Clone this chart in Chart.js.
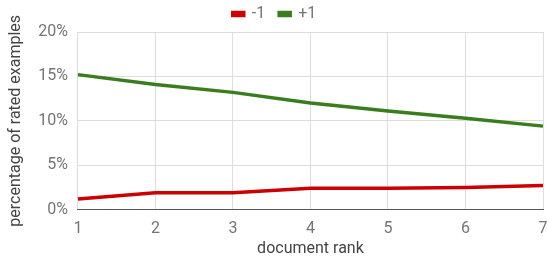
<!DOCTYPE html>
<html>
<head>
<meta charset="utf-8">
<script src="https://cdn.jsdelivr.net/npm/chart.js@4"></script>
<style>
  body { margin: 0; background: #fff; }
  #wrap { width: 547px; height: 257px; }
</style>
</head>
<body>
<div id="wrap"><canvas id="myChart"></canvas></div>
<script>
const ranks = ["1", "2", "3", "4", "5", "6", "7"];
const negValues = [1.2, 1.9, 1.9, 2.4, 2.4, 2.5, 2.7];
const posValues = [15.2, 14.1, 13.2, 12.0, 11.1, 10.3, 9.4];
const yTicks = [0, 5, 10, 15, 20];

const ctx = document.getElementById("myChart");

const data = {
  labels: ranks,
  datasets: [
    {
      label: "-1",
      data: negValues,
      borderColor: "#cc0000",
      backgroundColor: "#cc0000",
      borderWidth: 3.5,
      pointRadius: 0,
      tension: 0,
    },
    {
      label: "+1",
      data: posValues,
      borderColor: "#3a7d1e",
      backgroundColor: "#3a7d1e",
      borderWidth: 3.5,
      pointRadius: 0,
      tension: 0,
    },
  ],
};

const myChart = new Chart(ctx, {
  type: "line",
  data: data,
  options: {
    responsive: true,
    maintainAspectRatio: false,
    animation: false,
    layout: { padding: { left: 6, right: 4, top: -8, bottom: -2 } },
    plugins: {
      legend: {
        position: "top",
        labels: {
          font: { family: "Roboto", size: 16 },
          color: "#757575",
          boxWidth: 11,
          boxHeight: 3,
          padding: 14,
        },
      },
      tooltip: { enabled: false },
    },
    scales: {
      x: {
        offset: false,
        afterFit: (scale) => {
          // the last tick label is allowed to run off the right edge
          scale.paddingRight = 0;
        },
        grid: { color: "#dddddd", drawTicks: false },
        border: { color: "#555555" },
        ticks: {
          color: "#757575",
          font: { family: "Roboto", size: 16 },
          padding: 10,
          maxRotation: 0,
        },
        title: {
          display: true,
          text: "document rank",
          color: "#444444",
          font: { family: "Roboto", size: 16 },
          padding: { top: -9, bottom: 0 },
        },
      },
      y: {
        min: 0,
        max: 20,
        afterBuildTicks: (axis) => {
          axis.ticks = yTicks.map((v) => ({ value: v }));
        },
        grid: { color: "#dddddd", drawTicks: false },
        border: { display: false },
        ticks: {
          color: "#757575",
          font: { family: "Roboto", size: 16 },
          padding: 10,
          callback: (v) => v + "%",
        },
        title: {
          display: true,
          text: "percentage of rated examples",
          color: "#444444",
          font: { family: "Roboto", size: 16 },
          padding: { top: 0, bottom: 3 },
        },
      },
    },
  },
});
</script>
</body>
</html>
